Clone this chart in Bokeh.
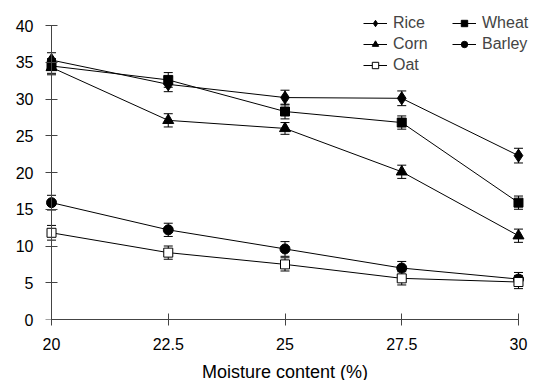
from bokeh.plotting import figure
from bokeh.models import ColumnDataSource, Whisker, TeeHead, Legend, LegendItem, Range1d, FixedTicker, LinearAxis
from bokeh.embed import file_html
from bokeh.resources import INLINE

moisture = [20, 22.5, 25, 27.5, 30]
rice = [35.3, 32.0, 30.2, 30.1, 22.3]
wheat = [34.5, 32.6, 28.3, 26.8, 15.9]
corn = [34.3, 27.1, 26.0, 20.1, 11.4]
barley = [15.9, 12.2, 9.6, 7.0, 5.5]
oat = [11.8, 9.1, 7.5, 5.6, 5.1]
rice_err = [1.0, 1.0, 1.0, 1.0, 1.0]
wheat_err = [1.0, 1.0, 1.0, 0.9, 0.9]
corn_err = [1.0, 0.9, 0.8, 0.9, 0.9]
barley_err = [1.0, 0.9, 1.0, 0.9, 0.9]
oat_err = [1.0, 0.9, 0.9, 0.9, 0.9]
x_ticks = [20, 22.5, 25, 27.5, 30]
y_ticks = [0, 5, 10, 15, 20, 25, 30, 35, 40]

FONT = "Liberation Sans"
AXC = "#444444"

p = figure(frame_width=499, frame_height=316, output_backend="svg", toolbar_location=None,
           x_range=Range1d(19.657, 30.343), y_range=Range1d(0, 43),
           min_border_left=35, min_border_right=0, min_border_top=3, min_border_bottom=55)
p.outline_line_color = None
p.xgrid.visible = False
p.ygrid.visible = False
p.background_fill_color = "white"

# x axis
xa = p.xaxis[0]
xa.ticker = FixedTicker(ticks=x_ticks)
xa.bounds = (20, 30)
xa.axis_line_color = AXC
xa.major_tick_line_color = AXC
xa.major_tick_in = 6
xa.major_tick_out = 6
xa.minor_tick_line_color = None
xa.major_label_text_font = FONT
xa.major_label_text_font_size = "16px"
xa.major_label_text_color = "black"
xa.major_label_standoff = 12
xa.axis_label = "Moisture content (%)"
xa.axis_label_text_font = FONT
xa.axis_label_text_font_size = "18px"
xa.axis_label_text_font_style = "normal"
xa.axis_label_text_color = "black"
xa.axis_label_standoff = 9

# y axis labels (at frame edge, no line/ticks)
ya = p.yaxis[0]
ya.ticker = FixedTicker(ticks=y_ticks)
ya.axis_line_color = None
ya.major_tick_line_color = None
ya.minor_tick_line_color = None
ya.major_tick_in = 0
ya.major_tick_out = 0
ya.major_label_text_font = FONT
ya.major_label_text_font_size = "16px"
ya.major_label_text_color = "black"
ya.major_label_standoff = 2

# y axis line + ticks placed at x = 20
yline = LinearAxis(ticker=FixedTicker(ticks=y_ticks), fixed_location=20, bounds=(0, 40),
                   axis_line_color=AXC, major_tick_line_color=AXC, minor_tick_line_color=None,
                   major_tick_in=6, major_tick_out=6, major_label_standoff=0,
                   major_label_text_font_size="0px", major_label_text_color=None)
p.add_layout(yline, "left")

series = [
    ("Rice", rice, rice_err, "diamond", 13, "black"),
    ("Wheat", wheat, wheat_err, "square", 9, "black"),
    ("Corn", corn, corn_err, "triangle", 11, "black"),
    ("Barley", barley, barley_err, "circle", 10, "black"),
    ("Oat", oat, oat_err, "square", 9, "white"),
]

items = {}
for name, vals, err, marker, size, fill in series:
    src = ColumnDataSource(dict(x=moisture, y=vals,
                                upper=[v + e for v, e in zip(vals, err)],
                                lower=[v - e for v, e in zip(vals, err)]))
    w = Whisker(source=src, base="x", upper="upper", lower="lower",
                line_color="black", line_width=1,
                upper_head=TeeHead(size=9, line_color="black", line_width=1),
                lower_head=TeeHead(size=9, line_color="black", line_width=1))
    p.add_layout(w)
    ln = p.line("x", "y", source=src, line_color="black", line_width=1)
    sc = p.scatter("x", "y", source=src, marker=marker, size=size,
                   fill_color=fill, line_color="black", line_width=1)
    items[name] = LegendItem(label=name, renderers=[ln, sc])

# column-major fill: col 1 = Rice, Corn, Oat; col 2 = Wheat, Barley
legend = Legend(items=[items[n] for n in ["Rice", "Corn", "Oat", "Wheat", "Barley"]],
                ncols=2, location=(328, 245),
                label_text_font=FONT, label_text_font_size="16px",
                glyph_width=24, glyph_height=16, label_height=16, label_width=56,
                label_standoff=6, spacing=3, padding=0, margin=0,
                border_line_color=None, background_fill_alpha=0)
p.add_layout(legend, "center")

open("out.html", "w").write(file_html(p, INLINE))
